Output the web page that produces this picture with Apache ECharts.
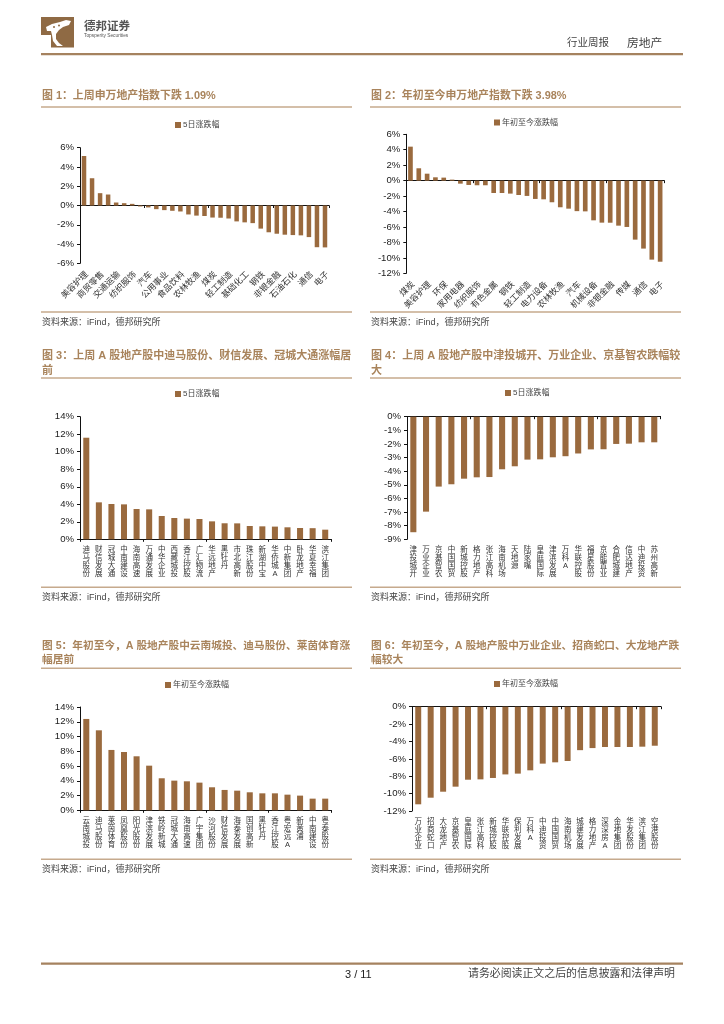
<!DOCTYPE html>
<html><head><meta charset="utf-8">
<style>html,body{margin:0;padding:0;background:#fff}#c{width:724px;height:1024px}</style>
<script src="https://cdn.jsdelivr.net/npm/echarts@6/dist/echarts.min.js"></script>
</head><body><div id="c"></div>
<script>
const cats1=['美容护理','综合','商贸零售','环保','交通运输','社会服务','纺织服饰','银行','汽车','建筑装饰','公用事业','建筑材料','食品饮料','医药生物','农林牧渔','房地产','煤炭','家用电器','轻工制造','机械设备','基础化工','电力设备','钢铁','有色金属','非银金融','传媒','石油石化','国防军工','通信','计算机','电子'];
const vals1=[5.14,2.83,1.28,1.14,0.31,0.24,0.17,-0.1,-0.2,-0.38,-0.48,-0.55,-0.62,-0.93,-1.05,-1.09,-1.25,-1.27,-1.35,-1.65,-1.75,-1.83,-2.4,-2.78,-2.93,-3.03,-3.07,-3.1,-3.28,-4.33,-4.35];
const cats2=['煤炭','银行','美容护理','商贸零售','环保','交通运输','家用电器','公用事业','纺织服饰','食品饮料','有色金属','基础化工','钢铁','石油石化','轻工制造','建筑材料','电力设备','建筑装饰','农林牧渔','医药生物','汽车','房地产','机械设备','国防军工','非银金融','社会服务','传媒','综合','通信','计算机','电子'];
const vals2=[4.4,1.6,0.9,0.43,0.39,0.13,-0.39,-0.56,-0.6,-0.6,-1.6,-1.6,-1.68,-1.86,-1.98,-2.37,-2.42,-2.8,-3.45,-3.63,-3.95,-3.98,-5.14,-5.44,-5.45,-5.83,-6.0,-7.64,-8.8,-10.23,-10.5];
const cats3=['迪马股份','财信发展','冠城大通','中南建设','海南高速','万通发展','中华企业','西藏城投','香江控股','广汇物流','华远地产','黑牡丹','市北高新','珠江股份','新湖中宝','华侨城A','中新集团','卧龙地产','华夏幸福','滨江集团'];
const vals3=[11.6,4.22,4.03,3.99,3.46,3.42,2.66,2.43,2.36,2.32,2.05,1.83,1.82,1.52,1.48,1.45,1.37,1.29,1.27,1.1];
const cats4=['津投城开','万业企业','京基智农','中国国贸','新城控股','格力地产','张江高科','海南机场','天地源','陆家嘴','皇庭国际','津滨发展','万科A','华联控股','福星股份','京能置业','合肥城建','信达地产','中迪投资','苏州高新'];
const vals4=[-8.48,-6.97,-5.13,-4.96,-4.55,-4.45,-4.43,-3.86,-3.64,-3.15,-3.13,-2.98,-2.9,-2.7,-2.4,-2.39,-2.0,-1.98,-1.88,-1.88];
const cats5=['云南城投','迪马股份','莱茵体育','凤凰股份','阳光股份','津滨发展','铁岭新城','冠城大通','海南高速','广宇集团','沙河股份','财信发展','海泰发展','国创高新','黑牡丹','香江控股','粤宏远A','新黄浦','中南建设','粤泰股份'];
const vals5=[12.38,10.84,8.18,7.9,7.32,6.05,4.34,4.02,3.93,3.75,3.12,2.76,2.66,2.44,2.3,2.3,2.12,1.99,1.58,1.58];
const cats6=['万业企业','招商蛇口','大龙地产','京基智农','皇庭国际','张江高科','新城控股','华联控股','保利发展','万科A','中迪投资','中国国贸','海南机场','城建发展','格力地产','深深房A','金地集团','华发股份','滨江集团','空港股份'];
const vals6=[-11.23,-10.47,-9.78,-9.2,-8.4,-8.36,-8.2,-7.79,-7.7,-7.32,-6.55,-6.4,-6.25,-5.0,-4.76,-4.64,-4.64,-4.64,-4.6,-4.49];
const title1=['图 1：上周申万地产指数下跌 1.09%'];
const title2=['图 2：年初至今申万地产指数下跌 3.98%'];
const title3=['图 3：上周 A 股地产股中迪马股份、财信发展、冠城大通涨幅居','前'];
const title4=['图 4：上周 A 股地产股中津投城开、万业企业、京基智农跌幅较','大'];
const title5=['图 5：年初至今，A 股地产股中云南城投、迪马股份、莱茵体育涨','幅居前'];
const title6=['图 6：年初至今，A 股地产股中万业企业、招商蛇口、大龙地产跌','幅较大'];
const sourceText='资料来源：iFind，德邦研究所';
const name5d='5日涨跌幅', nameYtd='年初至今涨跌幅';

const BAR='#9A6A3E', TITLE='#A9845C', RULE='#C6AA8D', DARK='#2b2b2b';
const FONT='"Liberation Sans","Noto Sans CJK SC",sans-serif';
const panels=[
 {c:cats1,v:vals1,t:title1,n:name5d,min:-6,max:6,step:2,g:[80,147.7,249,115.6],rot:45,skip:1,bw:'56%',lx:175,ly:126,ty:[96.7],r1:107,r2:312,sy:324,px:42,rx:41,fs:10.9},
 {c:cats2,v:vals2,t:title2,n:nameYtd,min:-12,max:6,step:2,g:[406.3,134.3,258,139],rot:45,skip:1,bw:'56%',lx:494,ly:123.5,ty:[96.7],r1:107,r2:312,sy:324,px:371,rx:370,fs:10.9},
 {c:cats3,v:vals3,t:title3,n:name5d,min:0,max:14,step:2,g:[80,416.7,251.5,122.6],rot:0,skip:0,bw:'48%',lx:175,ly:395,ty:[356.7,371.7],r1:378,r2:587.3,sy:599,px:42,rx:41,fs:11},
 {c:cats4,v:vals4,t:title4,n:name5d,min:-9,max:0,step:1,g:[407,416.7,253.6,122.6],rot:0,skip:0,bw:'48%',lx:505,ly:394,ty:[356.7,371.7],r1:378,r2:587.3,sy:599,px:371,rx:370,fs:11},
 {c:cats5,v:vals5,t:title5,n:nameYtd,min:0,max:14,step:2,g:[80,707,251.5,103.3],rot:0,skip:0,bw:'48%',lx:165,ly:686,ty:[646.7,660.7],r1:668.3,r2:859.3,sy:870.7,px:42,rx:41,fs:10.7},
 {c:cats6,v:vals6,t:title6,n:nameYtd,min:-12,max:0,step:2,g:[412,706.7,249,104.3],rot:0,skip:0,bw:'48%',lx:494,ly:685,ty:[646.7,660.7],r1:668.3,r2:859.3,sy:870.7,px:371,rx:370,fs:10.7}
];
const grid=[],xAxis=[],yAxis=[],series=[],legend=[],graphic=[];
const txt=(x,y,s,st)=>graphic.push({type:'text',left:x,top:y-6,silent:true,style:Object.assign({text:s,font:'10px '+FONT,fill:DARK},st||{})});
const rule=(x,y,w,h,f)=>graphic.push({type:'rect',left:x,top:y,silent:true,shape:{width:w,height:h},style:{fill:f}});
panels.forEach((p,i)=>{
  grid.push({left:p.g[0],top:p.g[1],width:p.g[2],height:p.g[3],containLabel:false});
  xAxis.push({type:'category',gridIndex:i,data:p.c,position:'bottom',axisLine:{show:false,onZero:false},axisTick:{show:false},
    axisLabel:{interval:p.skip,rotate:p.rot,margin:7,color:'#333',fontFamily:FONT,fontSize:p.rot?8.5:7.5,lineHeight:8,verticalAlign:'top',
      formatter:p.rot?(s=>s):(s=>s.split('').join('\n'))}});
  xAxis.push({type:'category',gridIndex:i,data:p.c,position:'bottom',axisLine:{show:true,onZero:true,lineStyle:{color:'#111',width:1}},axisTick:{show:true,length:2.5,lineStyle:{color:'#111'}},axisLabel:{show:false}});
  yAxis.push({type:'value',gridIndex:i,min:p.min,max:p.max,interval:p.step,splitLine:{show:false},
    axisLine:{show:true,onZero:false,lineStyle:{color:'#111',width:1}},axisTick:{show:true,length:3,lineStyle:{color:'#111'}},
    axisLabel:{formatter:'{value}%',margin:6,color:'#222',fontFamily:FONT,fontSize:9.6}});
  series.push({type:'bar',name:p.n,xAxisIndex:i*2,yAxisIndex:i,data:p.v,barWidth:p.bw,itemStyle:{color:BAR},silent:true,animation:false});
  legend.push({left:p.lx,top:p.ly-5,data:[p.n],itemWidth:6,itemHeight:6,itemGap:0,padding:0,selectedMode:false,icon:'rect',
    textStyle:{fontFamily:FONT,fontSize:8,color:'#444',padding:[0,0,0,-3]}});
  p.t.forEach((s,k)=>txt(p.px,p.ty[k],s,{font:'bold '+p.fs+'px '+FONT,fill:TITLE}));
  rule(p.rx,p.r1-0.7,311,1.4,RULE);
  rule(p.rx,p.r2-0.7,311,1.4,RULE);
  txt(p.px,p.sy,sourceText,{font:'9px '+FONT,fill:'#444'});
});
// page furniture
rule(41,53,642,2.2,'#A5825F');
rule(41,962.5,642,2.2,'#A5825F');
txt(567,44,'行业周报',{font:'10.5px '+FONT,fill:'#444'});
txt(627,44,'房地产',{font:'11.8px '+FONT,fill:'#444'});
txt(84,27,'德邦证券',{font:'bold 11.5px '+FONT,fill:'#555'});
txt(84,39,'Topsperity Securities',{font:'4.8px '+FONT,fill:'#555'});
txt(345,975,'3 / 11',{font:'11px '+FONT,fill:'#222'});
txt(468,975,'请务必阅读正文之后的信息披露和法律声明',{font:'10.9px '+FONT,fill:'#444'});
graphic.push({type:'polygon',silent:true,shape:{points:[[41,17],[74,17],[74,47.5],[51,47.5],[51,35],[41,35]]},style:{fill:'#8F6A44'}});
graphic.push({type:'polygon',silent:true,shape:{points:[[46,27],[52,24],[60,22],[66,20],[71,21],[69,25],[63,27],[59,30],[56,34],[56,39],[59,43],[63,46],[57,46],[53,41],[52,35],[51,31],[47,31]]},style:{fill:'#fff'}});
graphic.push({type:'circle',silent:true,shape:{cx:43,cy:30.5,r:1.2},style:{fill:'#8F6A44'}});
graphic.push({type:'circle',silent:true,shape:{cx:54,cy:27,r:1},style:{fill:'#8F6A44'}});
graphic.push({type:'circle',silent:true,shape:{cx:59,cy:25.5,r:1},style:{fill:'#8F6A44'}});
const chart=echarts.init(document.getElementById('c'),null,{renderer:'canvas',width:724,height:1024});
chart.setOption({animation:false,backgroundColor:'#fff',tooltip:{show:false},grid,xAxis,yAxis,series,legend,graphic});
</script></body></html>
